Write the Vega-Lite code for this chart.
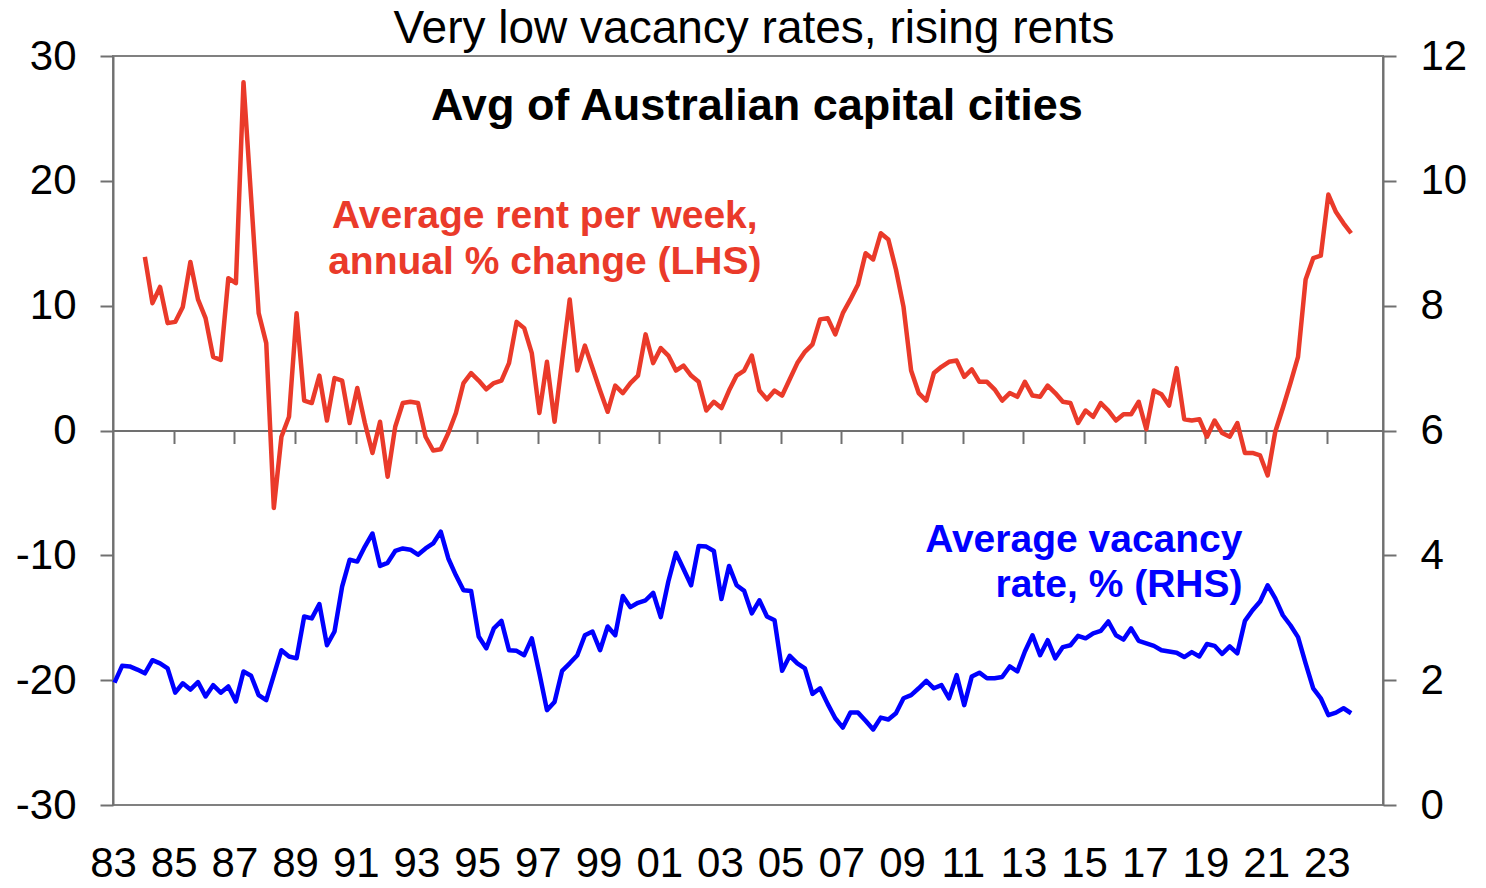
{
  "$schema": "https://vega.github.io/schema/vega-lite/v6.json",
  "width": 1270,
  "height": 749,
  "autosize": {"type": "none"},
  "padding": {"left": 113, "top": 56, "right": 103, "bottom": 83},
  "background": "white",
  "config": {
    "font": "Liberation Sans",
    "view": {"stroke": "#808080", "strokeWidth": 2},
    "axis": {
      "grid": false,
      "domainColor": "#707070",
      "domainWidth": 2,
      "tickColor": "#707070",
      "tickWidth": 2,
      "labelColor": "black",
      "labelFont": "Liberation Sans",
      "labelFontSize": 42
    }
  },
  "datasets": {
    "rent": [
      {"year": 1984.05, "value": 13.9}, {"year": 1984.3, "value": 10.2}, {"year": 1984.55, "value": 11.5}, {"year": 1984.8, "value": 8.6},
      {"year": 1985.05, "value": 8.7}, {"year": 1985.3, "value": 9.9}, {"year": 1985.55, "value": 13.5}, {"year": 1985.8, "value": 10.5},
      {"year": 1986.05, "value": 9.0}, {"year": 1986.3, "value": 5.9}, {"year": 1986.55, "value": 5.65}, {"year": 1986.8, "value": 12.2},
      {"year": 1987.05, "value": 11.8}, {"year": 1987.3, "value": 27.9}, {"year": 1987.55, "value": 18.7}, {"year": 1987.8, "value": 9.4},
      {"year": 1988.05, "value": 7.0}, {"year": 1988.3, "value": -6.2}, {"year": 1988.55, "value": -0.5}, {"year": 1988.8, "value": 1.1},
      {"year": 1989.05, "value": 9.4}, {"year": 1989.3, "value": 2.4}, {"year": 1989.55, "value": 2.2}, {"year": 1989.8, "value": 4.4},
      {"year": 1990.05, "value": 0.8}, {"year": 1990.3, "value": 4.2}, {"year": 1990.55, "value": 4.0}, {"year": 1990.8, "value": 0.6},
      {"year": 1991.05, "value": 3.4}, {"year": 1991.3, "value": 0.6}, {"year": 1991.55, "value": -1.8}, {"year": 1991.8, "value": 0.7},
      {"year": 1992.05, "value": -3.7}, {"year": 1992.3, "value": 0.3}, {"year": 1992.55, "value": 2.2}, {"year": 1992.8, "value": 2.3},
      {"year": 1993.05, "value": 2.2}, {"year": 1993.3, "value": -0.5}, {"year": 1993.55, "value": -1.6}, {"year": 1993.8, "value": -1.5},
      {"year": 1994.05, "value": -0.2}, {"year": 1994.3, "value": 1.4}, {"year": 1994.55, "value": 3.8}, {"year": 1994.8, "value": 4.6},
      {"year": 1995.05, "value": 4.0}, {"year": 1995.3, "value": 3.3}, {"year": 1995.55, "value": 3.8}, {"year": 1995.8, "value": 4.0},
      {"year": 1996.05, "value": 5.4}, {"year": 1996.3, "value": 8.7}, {"year": 1996.55, "value": 8.2}, {"year": 1996.8, "value": 6.2},
      {"year": 1997.05, "value": 1.4}, {"year": 1997.3, "value": 5.5}, {"year": 1997.55, "value": 0.7}, {"year": 1997.8, "value": 5.6},
      {"year": 1998.05, "value": 10.5}, {"year": 1998.3, "value": 4.8}, {"year": 1998.55, "value": 6.8}, {"year": 1998.8, "value": 5.0},
      {"year": 1999.05, "value": 3.2}, {"year": 1999.3, "value": 1.5}, {"year": 1999.55, "value": 3.6}, {"year": 1999.8, "value": 3.0},
      {"year": 2000.05, "value": 3.8}, {"year": 2000.3, "value": 4.4}, {"year": 2000.55, "value": 7.7}, {"year": 2000.8, "value": 5.4},
      {"year": 2001.05, "value": 6.6}, {"year": 2001.3, "value": 6.0}, {"year": 2001.55, "value": 4.8}, {"year": 2001.8, "value": 5.2},
      {"year": 2002.05, "value": 4.4}, {"year": 2002.3, "value": 3.9}, {"year": 2002.55, "value": 1.6}, {"year": 2002.8, "value": 2.3},
      {"year": 2003.05, "value": 1.8}, {"year": 2003.3, "value": 3.2}, {"year": 2003.55, "value": 4.4}, {"year": 2003.8, "value": 4.8},
      {"year": 2004.05, "value": 6.0}, {"year": 2004.3, "value": 3.2}, {"year": 2004.55, "value": 2.5}, {"year": 2004.8, "value": 3.2},
      {"year": 2005.05, "value": 2.8}, {"year": 2005.3, "value": 4.1}, {"year": 2005.55, "value": 5.4}, {"year": 2005.8, "value": 6.3},
      {"year": 2006.05, "value": 6.9}, {"year": 2006.3, "value": 8.9}, {"year": 2006.55, "value": 9.0}, {"year": 2006.8, "value": 7.7},
      {"year": 2007.05, "value": 9.4}, {"year": 2007.3, "value": 10.5}, {"year": 2007.55, "value": 11.7}, {"year": 2007.8, "value": 14.2},
      {"year": 2008.05, "value": 13.7}, {"year": 2008.3, "value": 15.8}, {"year": 2008.55, "value": 15.3}, {"year": 2008.8, "value": 12.9},
      {"year": 2009.05, "value": 9.9}, {"year": 2009.3, "value": 4.8}, {"year": 2009.55, "value": 3.0}, {"year": 2009.8, "value": 2.4},
      {"year": 2010.05, "value": 4.6}, {"year": 2010.3, "value": 5.1}, {"year": 2010.55, "value": 5.5}, {"year": 2010.8, "value": 5.6},
      {"year": 2011.05, "value": 4.3}, {"year": 2011.3, "value": 4.9}, {"year": 2011.55, "value": 3.9}, {"year": 2011.8, "value": 3.9},
      {"year": 2012.05, "value": 3.3}, {"year": 2012.3, "value": 2.4}, {"year": 2012.55, "value": 3.0}, {"year": 2012.8, "value": 2.7},
      {"year": 2013.05, "value": 3.9}, {"year": 2013.3, "value": 2.8}, {"year": 2013.55, "value": 2.7}, {"year": 2013.8, "value": 3.6},
      {"year": 2014.05, "value": 3.0}, {"year": 2014.3, "value": 2.3}, {"year": 2014.55, "value": 2.2}, {"year": 2014.8, "value": 0.6},
      {"year": 2015.05, "value": 1.6}, {"year": 2015.3, "value": 1.1}, {"year": 2015.55, "value": 2.2}, {"year": 2015.8, "value": 1.6},
      {"year": 2016.05, "value": 0.8}, {"year": 2016.3, "value": 1.3}, {"year": 2016.55, "value": 1.3}, {"year": 2016.8, "value": 2.3},
      {"year": 2017.05, "value": 0.1}, {"year": 2017.3, "value": 3.2}, {"year": 2017.55, "value": 2.9}, {"year": 2017.8, "value": 2.0},
      {"year": 2018.05, "value": 5.0}, {"year": 2018.3, "value": 0.9}, {"year": 2018.55, "value": 0.8}, {"year": 2018.8, "value": 0.9},
      {"year": 2019.05, "value": -0.5}, {"year": 2019.3, "value": 0.8}, {"year": 2019.55, "value": -0.2}, {"year": 2019.8, "value": -0.5},
      {"year": 2020.05, "value": 0.6}, {"year": 2020.3, "value": -1.8}, {"year": 2020.55, "value": -1.8}, {"year": 2020.8, "value": -2.0},
      {"year": 2021.05, "value": -3.6}, {"year": 2021.3, "value": -0.1}, {"year": 2021.55, "value": 1.8}, {"year": 2021.8, "value": 3.8},
      {"year": 2022.05, "value": 5.9}, {"year": 2022.3, "value": 12.1}, {"year": 2022.55, "value": 13.8}, {"year": 2022.8, "value": 14.0},
      {"year": 2023.05, "value": 18.9}, {"year": 2023.3, "value": 17.5}, {"year": 2023.55, "value": 16.6}, {"year": 2023.8, "value": 15.8}
    ],
    "vacancy": [
      {"year": 1983.05, "value": 1.96}, {"year": 1983.3, "value": 2.23}, {"year": 1983.55, "value": 2.22}, {"year": 1983.8, "value": 2.17},
      {"year": 1984.05, "value": 2.11}, {"year": 1984.3, "value": 2.32}, {"year": 1984.55, "value": 2.27}, {"year": 1984.8, "value": 2.19},
      {"year": 1985.05, "value": 1.80}, {"year": 1985.3, "value": 1.95}, {"year": 1985.55, "value": 1.85}, {"year": 1985.8, "value": 1.97},
      {"year": 1986.05, "value": 1.74}, {"year": 1986.3, "value": 1.92}, {"year": 1986.55, "value": 1.80}, {"year": 1986.8, "value": 1.90},
      {"year": 1987.05, "value": 1.66}, {"year": 1987.3, "value": 2.14}, {"year": 1987.55, "value": 2.07}, {"year": 1987.8, "value": 1.76},
      {"year": 1988.05, "value": 1.68}, {"year": 1988.3, "value": 2.08}, {"year": 1988.55, "value": 2.48}, {"year": 1988.8, "value": 2.38},
      {"year": 1989.05, "value": 2.35}, {"year": 1989.3, "value": 3.02}, {"year": 1989.55, "value": 2.99}, {"year": 1989.8, "value": 3.22},
      {"year": 1990.05, "value": 2.56}, {"year": 1990.3, "value": 2.78}, {"year": 1990.55, "value": 3.50}, {"year": 1990.8, "value": 3.93},
      {"year": 1991.05, "value": 3.90}, {"year": 1991.3, "value": 4.14}, {"year": 1991.55, "value": 4.35}, {"year": 1991.8, "value": 3.83},
      {"year": 1992.05, "value": 3.88}, {"year": 1992.3, "value": 4.07}, {"year": 1992.55, "value": 4.11}, {"year": 1992.8, "value": 4.09},
      {"year": 1993.05, "value": 4.01}, {"year": 1993.3, "value": 4.11}, {"year": 1993.55, "value": 4.19}, {"year": 1993.8, "value": 4.38},
      {"year": 1994.05, "value": 3.95}, {"year": 1994.3, "value": 3.68}, {"year": 1994.55, "value": 3.44}, {"year": 1994.8, "value": 3.43},
      {"year": 1995.05, "value": 2.70}, {"year": 1995.3, "value": 2.51}, {"year": 1995.55, "value": 2.83}, {"year": 1995.8, "value": 2.95},
      {"year": 1996.05, "value": 2.48}, {"year": 1996.3, "value": 2.47}, {"year": 1996.55, "value": 2.40}, {"year": 1996.8, "value": 2.67},
      {"year": 1997.05, "value": 2.11}, {"year": 1997.3, "value": 1.52}, {"year": 1997.55, "value": 1.65}, {"year": 1997.8, "value": 2.15},
      {"year": 1998.05, "value": 2.27}, {"year": 1998.3, "value": 2.40}, {"year": 1998.55, "value": 2.72}, {"year": 1998.8, "value": 2.78},
      {"year": 1999.05, "value": 2.48}, {"year": 1999.3, "value": 2.86}, {"year": 1999.55, "value": 2.72}, {"year": 1999.8, "value": 3.35},
      {"year": 2000.05, "value": 3.17}, {"year": 2000.3, "value": 3.24}, {"year": 2000.55, "value": 3.28}, {"year": 2000.8, "value": 3.40},
      {"year": 2001.05, "value": 3.01}, {"year": 2001.3, "value": 3.58}, {"year": 2001.55, "value": 4.04}, {"year": 2001.8, "value": 3.78},
      {"year": 2002.05, "value": 3.52}, {"year": 2002.3, "value": 4.15}, {"year": 2002.55, "value": 4.14}, {"year": 2002.8, "value": 4.07},
      {"year": 2003.05, "value": 3.30}, {"year": 2003.3, "value": 3.83}, {"year": 2003.55, "value": 3.52}, {"year": 2003.8, "value": 3.43},
      {"year": 2004.05, "value": 3.07}, {"year": 2004.3, "value": 3.28}, {"year": 2004.55, "value": 3.02}, {"year": 2004.8, "value": 2.96},
      {"year": 2005.05, "value": 2.15}, {"year": 2005.3, "value": 2.39}, {"year": 2005.55, "value": 2.27}, {"year": 2005.8, "value": 2.19},
      {"year": 2006.05, "value": 1.78}, {"year": 2006.3, "value": 1.87}, {"year": 2006.55, "value": 1.62}, {"year": 2006.8, "value": 1.39},
      {"year": 2007.05, "value": 1.24}, {"year": 2007.3, "value": 1.48}, {"year": 2007.55, "value": 1.48}, {"year": 2007.8, "value": 1.35},
      {"year": 2008.05, "value": 1.21}, {"year": 2008.3, "value": 1.40}, {"year": 2008.55, "value": 1.37}, {"year": 2008.8, "value": 1.47},
      {"year": 2009.05, "value": 1.71}, {"year": 2009.3, "value": 1.76}, {"year": 2009.55, "value": 1.87}, {"year": 2009.8, "value": 1.99},
      {"year": 2010.05, "value": 1.87}, {"year": 2010.3, "value": 1.92}, {"year": 2010.55, "value": 1.71}, {"year": 2010.8, "value": 2.08},
      {"year": 2011.05, "value": 1.60}, {"year": 2011.3, "value": 2.06}, {"year": 2011.55, "value": 2.12}, {"year": 2011.8, "value": 2.03},
      {"year": 2012.05, "value": 2.03}, {"year": 2012.3, "value": 2.05}, {"year": 2012.55, "value": 2.22}, {"year": 2012.8, "value": 2.14},
      {"year": 2013.05, "value": 2.46}, {"year": 2013.3, "value": 2.72}, {"year": 2013.55, "value": 2.40}, {"year": 2013.8, "value": 2.64},
      {"year": 2014.05, "value": 2.35}, {"year": 2014.3, "value": 2.53}, {"year": 2014.55, "value": 2.56}, {"year": 2014.8, "value": 2.71},
      {"year": 2015.05, "value": 2.67}, {"year": 2015.3, "value": 2.75}, {"year": 2015.55, "value": 2.79}, {"year": 2015.8, "value": 2.94},
      {"year": 2016.05, "value": 2.72}, {"year": 2016.3, "value": 2.65}, {"year": 2016.55, "value": 2.83}, {"year": 2016.8, "value": 2.63},
      {"year": 2017.05, "value": 2.59}, {"year": 2017.3, "value": 2.55}, {"year": 2017.55, "value": 2.48}, {"year": 2017.8, "value": 2.46},
      {"year": 2018.05, "value": 2.44}, {"year": 2018.3, "value": 2.37}, {"year": 2018.55, "value": 2.45}, {"year": 2018.8, "value": 2.38},
      {"year": 2019.05, "value": 2.58}, {"year": 2019.3, "value": 2.55}, {"year": 2019.55, "value": 2.42}, {"year": 2019.8, "value": 2.54},
      {"year": 2020.05, "value": 2.43}, {"year": 2020.3, "value": 2.95}, {"year": 2020.55, "value": 3.12}, {"year": 2020.8, "value": 3.26},
      {"year": 2021.05, "value": 3.52}, {"year": 2021.3, "value": 3.31}, {"year": 2021.55, "value": 3.04}, {"year": 2021.8, "value": 2.88},
      {"year": 2022.05, "value": 2.69}, {"year": 2022.3, "value": 2.27}, {"year": 2022.55, "value": 1.87}, {"year": 2022.8, "value": 1.71},
      {"year": 2023.05, "value": 1.44}, {"year": 2023.3, "value": 1.48}, {"year": 2023.55, "value": 1.55}, {"year": 2023.8, "value": 1.47}
    ]
  },
  "layer": [
    {
      "data": {"name": "rent"},
      "mark": {"type": "line", "color": "#ea3a2a", "strokeWidth": 4.5, "strokeJoin": "round"},
      "encoding": {
        "x": {
          "field": "year",
          "type": "quantitative",
          "scale": {"domain": [1983, 2024.85], "nice": false, "zero": false},
          "axis": {
            "orient": "bottom",
            "title": null,
            "values": [1983, 1985, 1987, 1989, 1991, 1993, 1995, 1997, 1999, 2001, 2003, 2005, 2007, 2009, 2011, 2013, 2015, 2017, 2019, 2021, 2023],
            "format": "d",
            "labelExpr": "slice(datum.label, 2)",
            "labelFontSize": 42,
            "labelBaseline": "top",
            "domain": false,
            "ticks": false,
            "tickSize": 0,
            "labelPadding": 38,
            "labelFlush": false,
            "labelOverlap": false
          }
        },
        "y": {
          "field": "value",
          "type": "quantitative",
          "scale": {"domain": [-30, 30], "nice": false},
          "axis": {
            "orient": "left",
            "title": null,
            "values": [-30, -20, -10, 0, 10, 20, 30],
            "labelExpr": "toString(datum.value)",
            "tickSize": 13,
            "labelPadding": 24
          }
        }
      }
    },
    {
      "data": {"name": "vacancy"},
      "mark": {"type": "line", "color": "#0000ff", "strokeWidth": 4.5, "strokeJoin": "round"},
      "encoding": {
        "x": {
          "field": "year",
          "type": "quantitative",
          "scale": {"domain": [1983, 2024.85], "nice": false, "zero": false},
          "axis": {
            "orient": "bottom",
            "title": null,
            "offset": -374.5,
            "values": [1985, 1987, 1989, 1991, 1993, 1995, 1997, 1999, 2001, 2003, 2005, 2007, 2009, 2011, 2013, 2015, 2017, 2019, 2021, 2023],
            "labels": false,
            "tickSize": 13
          }
        },
        "y": {
          "field": "value",
          "type": "quantitative",
          "scale": {"domain": [0, 12], "nice": false},
          "axis": {
            "orient": "right",
            "title": null,
            "values": [0, 2, 4, 6, 8, 10, 12],
            "tickSize": 13,
            "labelPadding": 24
          }
        }
      }
    },
    {
      "data": {"values": [{"label": "Very low vacancy rates, rising rents"}]},
      "mark": {"type": "text", "fontSize": 46, "fontWeight": "normal", "color": "black", "align": "center", "baseline": "alphabetic"},
      "encoding": {
        "x": {"datum": 2004.12, "type": "quantitative", "axis": null},
        "y": {"datum": 31.04, "type": "quantitative", "scale": {"domain": [-30, 30], "nice": false}, "axis": null},
        "text": {"field": "label"}
      }
    },
    {
      "data": {"values": [{"label": "Avg of Australian capital cities"}]},
      "mark": {"type": "text", "fontSize": 45, "fontWeight": "bold", "color": "black", "align": "center", "baseline": "alphabetic"},
      "encoding": {
        "x": {"datum": 2004.22, "type": "quantitative", "axis": null},
        "y": {"datum": 24.87, "type": "quantitative", "scale": {"domain": [-30, 30], "nice": false}, "axis": null},
        "text": {"field": "label"}
      }
    },
    {
      "data": {"values": [{"label": ["Average rent per week,", "annual % change (LHS)"]}]},
      "mark": {"type": "text", "fontSize": 39, "fontWeight": "bold", "color": "#ea3a2a", "align": "center", "baseline": "alphabetic", "lineHeight": 46},
      "encoding": {
        "x": {"datum": 1997.23, "type": "quantitative", "axis": null},
        "y": {"datum": 16.22, "type": "quantitative", "scale": {"domain": [-30, 30], "nice": false}, "axis": null},
        "text": {"field": "label"}
      }
    },
    {
      "data": {"values": [{"label": ["Average vacancy", "rate, % (RHS)"]}]},
      "mark": {"type": "text", "fontSize": 39, "fontWeight": "bold", "color": "#0000ff", "align": "right", "baseline": "alphabetic", "lineHeight": 45},
      "encoding": {
        "x": {"datum": 2020.22, "type": "quantitative", "axis": null},
        "y": {"datum": 4.05, "type": "quantitative", "scale": {"domain": [0, 12], "nice": false}, "axis": null},
        "text": {"field": "label"}
      }
    }
  ],
  "resolve": {"scale": {"y": "independent"}, "axis": {"x": "independent"}}
}
